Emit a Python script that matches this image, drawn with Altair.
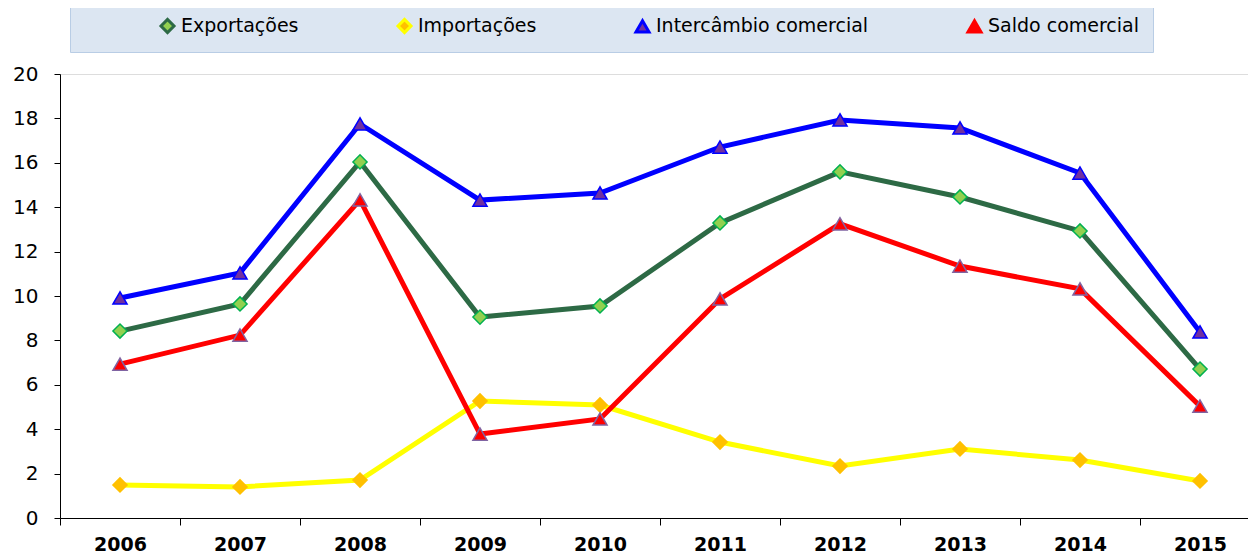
import altair as alt
import pandas as pd

years = [2006, 2007, 2008, 2009, 2010, 2011, 2012, 2013, 2014, 2015]
series_names = ["Exportações", "Importações", "Intercâmbio comercial", "Saldo comercial"]
exportacoes = [8.42, 9.64, 16.04, 9.05, 9.55, 13.29, 15.59, 14.46, 12.93, 6.71]
importacoes = [1.49, 1.40, 1.71, 5.27, 5.09, 3.42, 2.34, 3.11, 2.61, 1.67]
intercambio = [9.91, 11.04, 17.75, 14.32, 14.64, 16.71, 17.93, 17.57, 15.54, 8.38]
saldo = [6.93, 8.24, 14.33, 3.78, 4.46, 9.87, 13.25, 11.35, 10.32, 5.04]

line_colors = ["#2d6a45", "#ffff00", "#0000ff", "#ff0000"]
marker_fills = ["#92d050", "#ffc000", "#7030a0", "#ff0000"]
marker_strokes = ["#00b050", "#ffc000", "#0000ff", "#8064a2"]
marker_shapes = ["diamond", "diamond", "triangle-up", "triangle-up"]

rows = []
for name, vals in zip(series_names, [exportacoes, importacoes, intercambio, saldo]):
    for y, v in zip(years, vals):
        rows.append({"Ano": y, "Valor": v, "Serie": name})
df = pd.DataFrame(rows)

FONT = "DejaVu Sans"

x_enc = alt.X(
    "Ano:Q",
    scale=alt.Scale(domain=[2005.5, 2015.4], nice=False, zero=False),
    axis=alt.Axis(
        title=None,
        values=[y - 0.5 for y in years],
        labelExpr="toString(datum.value + 0.5)",
        labelOffset=60,
        labelOverlap=False,
        labelFlush=False,
        labelBound=False,
        grid=False,
        tickSize=7,
        tickColor="#000000",
        domainColor="#000000",
        labelFont=FONT,
        labelFontSize=19,
        labelFontWeight="bold",
        labelColor="#000000",
        labelPadding=10,
    ),
)
y_enc = alt.Y(
    "Valor:Q",
    scale=alt.Scale(domain=[0, 20], nice=False),
    axis=alt.Axis(
        title=None,
        values=list(range(0, 21, 2)),
        grid=False,
        tickSize=6,
        tickColor="#000000",
        domainColor="#000000",
        labelFont=FONT,
        labelFontSize=20,
        labelColor="#000000",
        labelPadding=16,
    ),
)

lines = alt.Chart(df).mark_line(strokeWidth=5).encode(
    x=x_enc,
    y=y_enc,
    color=alt.Color(
        "Serie:N",
        sort=series_names,
        scale=alt.Scale(domain=series_names, range=line_colors),
        legend=alt.Legend(
            title="\u00a0",
            titleOrient="left",
            titlePadding=75,
            titleFontSize=10,
            orient="none",
            legendX=10,
            legendY=-71,
            direction="horizontal",
            fillColor="#dce6f2",
            strokeColor="#b9cde5",
            padding=13,
            columnPadding=92,
            labelFont=FONT,
            labelFontSize=19,
            labelColor="#000000",
            symbolSize=170,
            symbolStrokeWidth=3,
            labelLimit=400,
        ),
    ),
    detail="Serie:N",
)

points = alt.Chart(df).mark_point(filled=True, opacity=1, strokeWidth=1.5).encode(
    x=x_enc,
    y=y_enc,
    shape=alt.Shape("Serie:N", sort=series_names,
                    scale=alt.Scale(domain=series_names, range=marker_shapes)),
    fill=alt.Fill("Serie:N", sort=series_names,
                  scale=alt.Scale(domain=series_names, range=marker_fills)),
    stroke=alt.Stroke("Serie:N", sort=series_names,
                      scale=alt.Scale(domain=series_names, range=marker_strokes),
                      legend=None),
    size=alt.value(200),
)

chart = alt.layer(lines, points).properties(
    width=1188,
    height=444,
    autosize=alt.AutoSizeParams(type="none"),
    padding={"left": 52, "top": 66, "right": 0, "bottom": 38},
).configure_view(stroke=None).configure(background="#ffffff")

chart.save("out.html", embed_options={"renderer": "svg", "actions": False})
